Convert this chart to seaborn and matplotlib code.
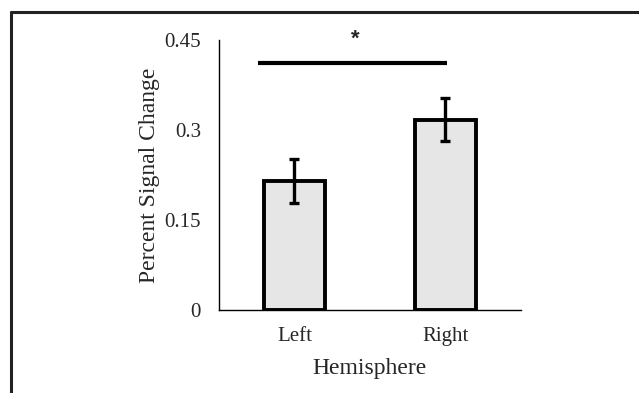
import matplotlib
matplotlib.use("Agg")
import matplotlib.pyplot as plt
import seaborn as sns
import pandas as pd
from matplotlib.lines import Line2D

categories = ["Left", "Right"]
values = [0.215, 0.317]
errors = [0.036, 0.036]
yticks = [0, 0.15, 0.3, 0.45]
ytick_labels = ["0", "0.15", "0.3", "0.45"]
sig_y = 0.412
sig_label = "*"

sns.set_style("white")
plt.rcParams['font.family'] = ['Liberation Serif', 'DejaVu Serif']

df = pd.DataFrame({"Hemisphere": categories, "PSC": values})

fig = plt.figure(figsize=(6.39, 3.93), dpi=100)
ax = fig.add_axes([0.3427, 0.2112, 0.8153 - 0.3427, 0.898 - 0.2112])

sns.barplot(data=df, x="Hemisphere", y="PSC", ax=ax, width=0.41,
            color="#e6e6e6", edgecolor="black", linewidth=2.8, errorbar=None,
            saturation=1)
ax.errorbar(range(len(categories)), values, yerr=errors, fmt="none",
            ecolor="black", elinewidth=2.4, capsize=3.5, capthick=2.4)

ax.set_xlim(-0.5, 1.5)
ax.set_ylim(0, 0.45)
ax.set_yticks(yticks)
ax.set_yticklabels(ytick_labels)
ax.set_xticks([-0.5, 0.5, 1.5], minor=True)
ax.tick_params(axis="x", which="major", length=0, labelsize=15, pad=12)
ax.tick_params(axis="x", which="minor", length=9, width=1, direction="inout",
               color="black")
ax.tick_params(axis="y", which="major", length=5, width=1, direction="in",
               labelsize=15, pad=13, color="black")
for s in ["top", "right"]:
    ax.spines[s].set_visible(False)
for s in ["left", "bottom"]:
    ax.spines[s].set_color("black")
    ax.spines[s].set_linewidth(1)

ax.set_xlabel("Hemisphere", fontsize=17, labelpad=9)
ax.set_ylabel("Percent Signal Change", fontsize=17, labelpad=3)

ax.plot([-0.24, 1.01], [sig_y, sig_y], color="black", lw=3, clip_on=False,
        solid_capstyle="butt")
ax.text(0.40, 0.443, sig_label, ha="center", va="baseline", fontsize=16,
        fontweight="bold", fontfamily="Liberation Sans", clip_on=False)

# frame lines around the figure (top and left)
fig.add_artist(Line2D([11/639, 1.0], [1 - 12/393, 1 - 12/393],
                      transform=fig.transFigure, color="#222222", lw=2.2))
fig.add_artist(Line2D([11/639, 11/639], [0, 1 - 12/393],
                      transform=fig.transFigure, color="#222222", lw=2.2))

fig.savefig("out.png", dpi=100)
